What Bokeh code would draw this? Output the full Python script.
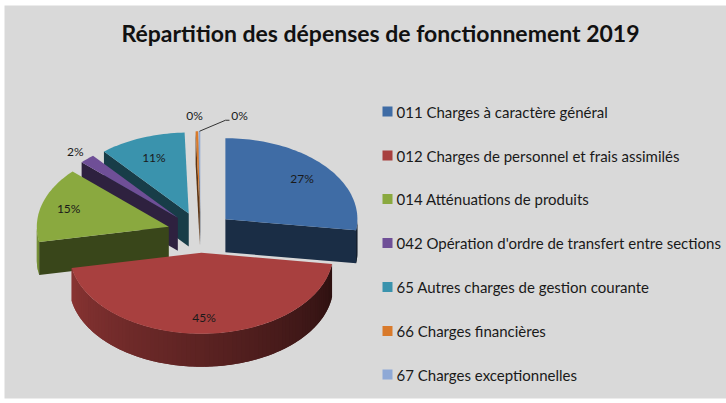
import math
from bokeh.core.properties import value
from bokeh.embed import file_html
from bokeh.models import Range1d
from bokeh.plotting import figure
from bokeh.resources import INLINE

title = "Répartition des dépenses de fonctionnement 2019"
categories = ["011 Charges  à caractère général",
              "012 Charges de personnel et frais assimilés",
              "014 Atténuations de produits",
              "042 Opération d'ordre de transfert entre sections",
              "65 Autres charges de gestion courante",
              "66 Charges financières",
              "67 Charges exceptionnelles"]
values = [27.2, 44.8, 15.0, 1.9, 10.6, 0.3, 0.2]
labels = ["27%", "45%", "15%", "2%", "11%", "0%", "0%"]
colors = ["#3f6ca5", "#a8403f", "#8aa93f", "#6f4f97", "#3a93ad", "#d97a2b", "#8fa9d6"]

BG = "#d9d9d9"
W, H = 726, 403
CX, CY, RX, RY, DEPTH, EXPLODE = 200.0, 232.0, 132.0, 81.0, 33.0, 0.25
label_t = [0.77, 0.80, 0.79, 1.13, 0.74, 1.18, 1.18]
draw_order = [6, 5, 4, 3, 2, 0, 1]
RADIAL_SHADE = 0.42
FONT = "Lato"

p = figure(width=W, height=H, output_backend="svg", toolbar_location=None,
           x_range=Range1d(0, W), y_range=Range1d(H, 0),
           background_fill_color="white", border_fill_color="white", outline_line_color=None,
           min_border=0, x_axis_type=None, y_axis_type=None)
p.grid.visible = False
p.quad(left=[4], right=[W], top=[5], bottom=[398], fill_color=BG, line_color=None)


def shade(hex_color, f):
    r, g, b = [int(hex_color[i:i + 2], 16) for i in (1, 3, 5)]
    return "#%02x%02x%02x" % (int(r * f), int(g * f), int(b * f))


def rim(ax, ay, deg):
    a = math.radians(deg)
    return ax + RX * math.sin(a), ay - RY * math.cos(a)


total = sum(values)
edges = [0.0]
for v in values:
    edges.append(edges[-1] + 360.0 * v / total)

geo = []
for i in range(len(values)):
    a0, a1 = edges[i], edges[i + 1]
    mid = math.radians((a0 + a1) / 2)
    geo.append((a0, a1, mid, CX + EXPLODE * RX * math.sin(mid), CY - EXPLODE * RY * math.cos(mid)))

for i in draw_order:
    a0, a1, mid, ax, ay = geo[i]
    col = colors[i]
    # radial cut faces that look towards the viewer
    for a, visible in ((a0, math.sin(math.radians(a0)) < -1e-6),
                       (a1, math.sin(math.radians(a1)) > 1e-6)):
        if visible:
            ex, ey = rim(ax, ay, a)
            p.patch([ax, ex, ex, ax], [ay, ey, ey + DEPTH, ay + DEPTH],
                    fill_color=shade(col, RADIAL_SHADE), line_color=None)
    # outer curved wall, in overlapping strips for the shading
    lo, hi = max(a0, 90.0), min(a1, 270.0)
    if hi > lo:
        n = max(2, int((hi - lo) / 2))
        step = (hi - lo) / n
        for k in range(n):
            s0 = lo + step * k
            s1 = min(hi, s0 + 2 * step)
            n2 = 3
            arc = [rim(ax, ay, s0 + (s1 - s0) * q / n2) for q in range(n2 + 1)]
            f = 0.24 + 0.62 * (s0 + step / 2 - 90.0) / 180.0
            c = shade(col, f)
            xs = [q[0] for q in arc] + [q[0] for q in reversed(arc)]
            ys = [q[1] for q in arc] + [q[1] + DEPTH for q in reversed(arc)]
            p.patch(xs, ys, fill_color=c, line_color=None)
    # top face
    n = max(2, int((a1 - a0) / 1.5))
    pts = [rim(ax, ay, a0 + (a1 - a0) * k / n) for k in range(n + 1)]
    p.patch([ax] + [q[0] for q in pts], [ay] + [q[1] for q in pts],
            fill_color=col, line_color=None)

# data labels
lx, ly = [], []
for i in range(len(values)):
    a0, a1, mid, ax, ay = geo[i]
    lx.append(ax + label_t[i] * RX * math.sin(mid))
    ly.append(ay - label_t[i] * RY * math.cos(mid))
# the last label sits to the right, on a leader line
tip = rim(geo[6][3], geo[6][4], (geo[6][0] + geo[6][1]) / 2)
lx[6] = tip[0] + 40
ly[6] = tip[1] - 16
lx[5] = tip[0] - 5
ly[5] = tip[1] - 16
p.line([tip[0], tip[0] + 26, tip[0] + 30], [tip[1], tip[1] - 11, tip[1] - 11], line_color="#333333", line_width=1)
p.text(lx, ly, text=labels, text_font=value(FONT), text_font_size="12px", text_color="#1a1a1a",
       text_align="center", text_baseline="middle")

# title
p.text([380], [32], text=[title], text_font=value(FONT), text_font_style="bold", text_font_size="23px",
       text_color="#111111", text_align="center", text_baseline="middle")

# legend
leg_y = [111, 155, 198.5, 242.5, 286.5, 330.5, 374]
p.rect([387] * 7, leg_y, width=10, height=10, fill_color=colors, line_color=None)
p.text([396] * 7, leg_y, text=categories, text_font=value(FONT), text_font_size="15px",
       text_color="#1a1a1a", text_align="left", text_baseline="middle")

open("out.html", "w").write(file_html(p, INLINE))
